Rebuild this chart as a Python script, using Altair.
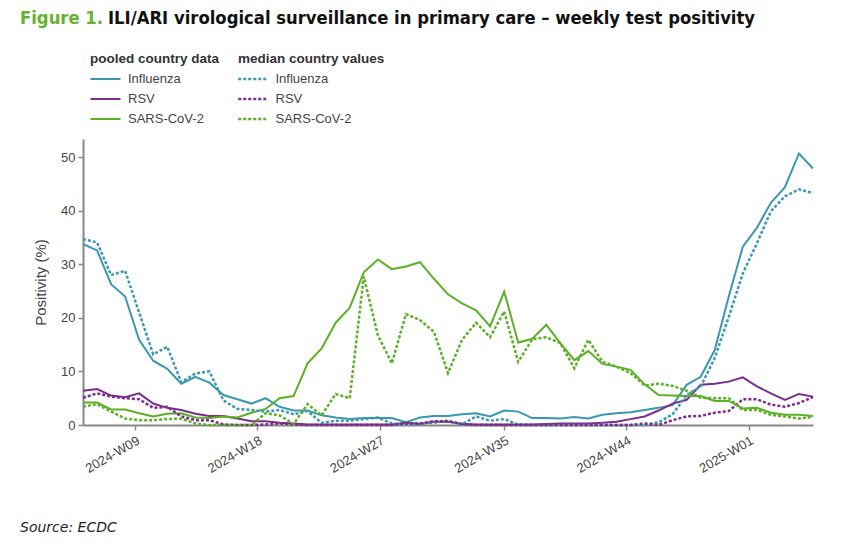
import altair as alt
import pandas as pd

# weekly points (end of ISO week), 2024-W05 .. 2025-W05
weeks = pd.date_range("2024-02-04", periods=53, freq="7D").strftime("%Y-%m-%d").tolist()
viruses = ["Influenza", "RSV", "SARS-CoV-2"]
colors = ["#3a98b0", "#7b2d8e", "#5cb025"]

flu_pooled = [33.8, 32.6, 26.3, 24.0, 15.9, 12.0, 10.5, 7.7, 9.0, 7.9,
              5.6, 4.8, 4.0, 5.0, 3.4, 2.7, 2.7, 1.8, 1.4, 1.1,
              1.3, 1.3, 1.3, 0.5, 1.4, 1.7, 1.7, 2.0, 2.2, 1.6,
              2.7, 2.5, 1.3, 1.3, 1.2, 1.5, 1.2, 1.9, 2.2, 2.4,
              2.8, 3.2, 3.7, 7.5, 9.0, 14.0, 24.0, 33.3, 36.8, 41.5,
              44.4, 50.7, 47.9]
flu_median = [34.7, 34.1, 28.0, 28.8, 21.0, 13.2, 14.6, 8.0, 9.6, 10.0,
              4.6, 3.0, 2.8, 2.5, 2.8, 2.0, 2.6, 0.4, 0.8, 0.8,
              1.1, 1.4, 0.3, 0.1, 0.3, 0.4, 0.8, 0.1, 1.6, 0.8,
              1.1, 0.1, 0.0, 0.0, 0.0, 0.0, 0.0, 0.0, 0.0, 0.0,
              0.0, 0.5, 2.0, 5.6, 7.2, 12.5, 20.2, 28.3, 33.9, 39.9,
              42.7, 44.0, 43.3]
rsv_pooled = [6.4, 6.7, 5.5, 5.2, 5.9, 4.0, 3.2, 2.8, 2.1, 1.7,
              1.7, 1.2, 0.7, 0.7, 0.4, 0.3, 0.1, 0.1, 0.1, 0.1,
              0.1, 0.1, 0.1, 0.4, 0.2, 0.6, 0.6, 0.2, 0.1, 0.1,
              0.1, 0.1, 0.1, 0.2, 0.3, 0.3, 0.3, 0.4, 0.6, 1.1,
              1.6, 2.7, 4.0, 4.7, 7.5, 7.7, 8.1, 8.9, 7.2, 5.9,
              4.7, 5.8, 5.3]
rsv_median = [5.1, 5.9, 5.3, 5.0, 4.8, 3.2, 3.4, 1.6, 0.9, 0.9,
              0.1, 0.0, 0.0, 0.1, 0.3, 0.1, 0.0, 0.0, 0.0, 0.0,
              0.0, 0.0, 0.0, 0.3, 0.3, 0.7, 0.7, 0.2, 0.0, 0.0,
              0.0, 0.0, 0.0, 0.0, 0.0, 0.0, 0.0, 0.0, 0.0, 0.0,
              0.3, 0.0, 0.9, 1.6, 1.7, 2.3, 2.6, 4.8, 4.8, 3.8,
              3.4, 4.1, 5.2]
cov_pooled = [4.2, 4.2, 2.9, 2.9, 2.2, 1.6, 2.1, 2.2, 1.4, 1.3,
              1.6, 1.4, 2.3, 3.0, 5.0, 5.4, 11.5, 14.3, 19.1, 21.9,
              28.5, 30.9, 29.1, 29.6, 30.4, 27.3, 24.4, 22.7, 21.4, 18.4,
              24.9, 15.4, 16.1, 18.7, 15.3, 12.1, 13.8, 11.4, 10.9, 10.3,
              7.6, 5.6, 5.5, 5.4, 5.4, 4.5, 4.5, 3.1, 3.2, 2.3,
              1.9, 1.9, 1.7]
cov_median = [3.4, 3.9, 2.5, 1.2, 0.9, 0.9, 1.1, 1.2, 0.3, 0.0,
              0.0, 0.0, 0.0, 2.2, 1.8, 0.2, 3.9, 1.8, 5.8, 5.0,
              27.7, 16.8, 11.5, 20.7, 19.6, 17.4, 9.7, 15.9, 19.1, 16.4,
              21.2, 11.8, 16.0, 16.4, 15.3, 10.6, 15.9, 11.8, 10.9, 9.7,
              7.4, 7.7, 7.3, 6.4, 5.1, 5.0, 5.0, 2.8, 2.8, 1.9,
              1.6, 1.2, 1.5]

tick_dates = [(2024, 3), (2024, 5), (2024, 7), (2024, 9), (2024, 11), (2025, 1)]
y_ticks = [0, 10, 20, 30, 40, 50]

pooled_rows, median_rows = [], []
for v, p, m in zip(viruses, [flu_pooled, rsv_pooled, cov_pooled],
                   [flu_median, rsv_median, cov_median]):
    for d, a, b in zip(weeks, p, m):
        pooled_rows.append({"week": d, "virus": v, "value": a})
        median_rows.append({"week": d, "virus": v, "value": b})
df_p = pd.DataFrame(pooled_rows)
df_m = pd.DataFrame(median_rows)

FONT = "Liberation Sans, Arial, sans-serif"
TFONT = "Liberation Sans Narrow, DejaVu Sans Condensed, sans-serif"
AX = "#888888"

x_enc = alt.X(
    "week:T",
    scale=alt.Scale(type="utc"),
    axis=alt.Axis(
        values=[alt.DateTime(year=y, month=m, date=1, utc=True) for y, m in tick_dates],
        format="%G-W%V", labelAngle=-30, grid=False, title=None,
        domainColor=AX, domainWidth=2, tickColor=AX, tickWidth=1.5, tickSize=5,
        labelFont=FONT, labelFontSize=13, labelColor="#444444", labelPadding=4,
    ),
)
y_enc = alt.Y(
    "value:Q",
    scale=alt.Scale(domain=[0, 53.4], nice=False),
    axis=alt.Axis(
        values=y_ticks, grid=False, title="Positivity (%)",
        domainColor=AX, domainWidth=2, tickColor=AX, tickWidth=1.5, tickSize=5,
        labelFont=FONT, labelFontSize=13, labelColor="#444444", labelPadding=3,
        titleFont=FONT, titleFontSize=15, titleFontWeight="normal",
        titleColor="#444444", titlePadding=12,
    ),
)

def legend(title, x, sw, dash=None):
    off = 10 + sw
    sym_off = 15 - off / 2
    kw = dict(
        title=title, orient="none", legendX=x, legendY=-87, padding=0,
        symbolType="M-3,0L3,0", symbolSize=100, symbolStrokeWidth=sw,
        symbolOffset=sym_off, labelOffset=37 - off - sym_off,
        rowPadding=6, titlePadding=7,
        titleFont=FONT, titleFontSize=13.5, titleFontWeight="bold", titleColor="#333333",
        labelFont=FONT, labelFontSize=13, labelColor="#444444",
    )
    if dash:
        kw["symbolDash"] = dash
    return alt.Legend(**kw)

cscale = alt.Scale(domain=viruses, range=colors)

pooled = alt.Chart(df_p).mark_line(strokeWidth=2).encode(
    x=x_enc, y=y_enc,
    color=alt.Color("virus:N", scale=cscale, legend=legend("pooled country data", 7, 2)),
)
median = alt.Chart(df_m).mark_line(strokeWidth=2.5, strokeDash=[3, 2]).encode(
    x=x_enc, y=y_enc,
    color=alt.Color("virus:N", scale=cscale,
                    legend=legend("median country values", 155, 2.5, dash=[3, 2])),
)

fig_lbl = alt.Chart(pd.DataFrame({"t": ["Figure 1."]})).mark_text(
    align="left", baseline="middle", font=TFONT,
    fontSize=18.3, fontWeight="bold", color="#66b22f",
).encode(x=alt.value(-63), y=alt.value(-120), text="t:N")
title_lbl = alt.Chart(pd.DataFrame({"t": ["ILI/ARI virological surveillance in primary care – weekly test positivity"]})).mark_text(
    align="left", baseline="middle", font=TFONT,
    fontSize=18.3, fontWeight="bold", color="#111111",
).encode(x=alt.value(25), y=alt.value(-120), text="t:N")
source_lbl = alt.Chart(pd.DataFrame({"t": ["Source: ECDC"]})).mark_text(
    align="left", baseline="middle", font="DejaVu Sans, sans-serif",
    fontSize=14, fontStyle="italic", color="#222222",
).encode(x=alt.value(-63), y=alt.value(389), text="t:N")

chart = alt.layer(pooled, median, fig_lbl, title_lbl, source_lbl).resolve_scale(
    color="independent"
).properties(
    width=730, height=286,
    padding={"left": 83, "top": 139, "right": 52, "bottom": 119},
    autosize=alt.AutoSizeParams(type="none"),
).configure_view(stroke=None)

chart.save("out.html", embed_options={"renderer": "svg", "actions": False})
